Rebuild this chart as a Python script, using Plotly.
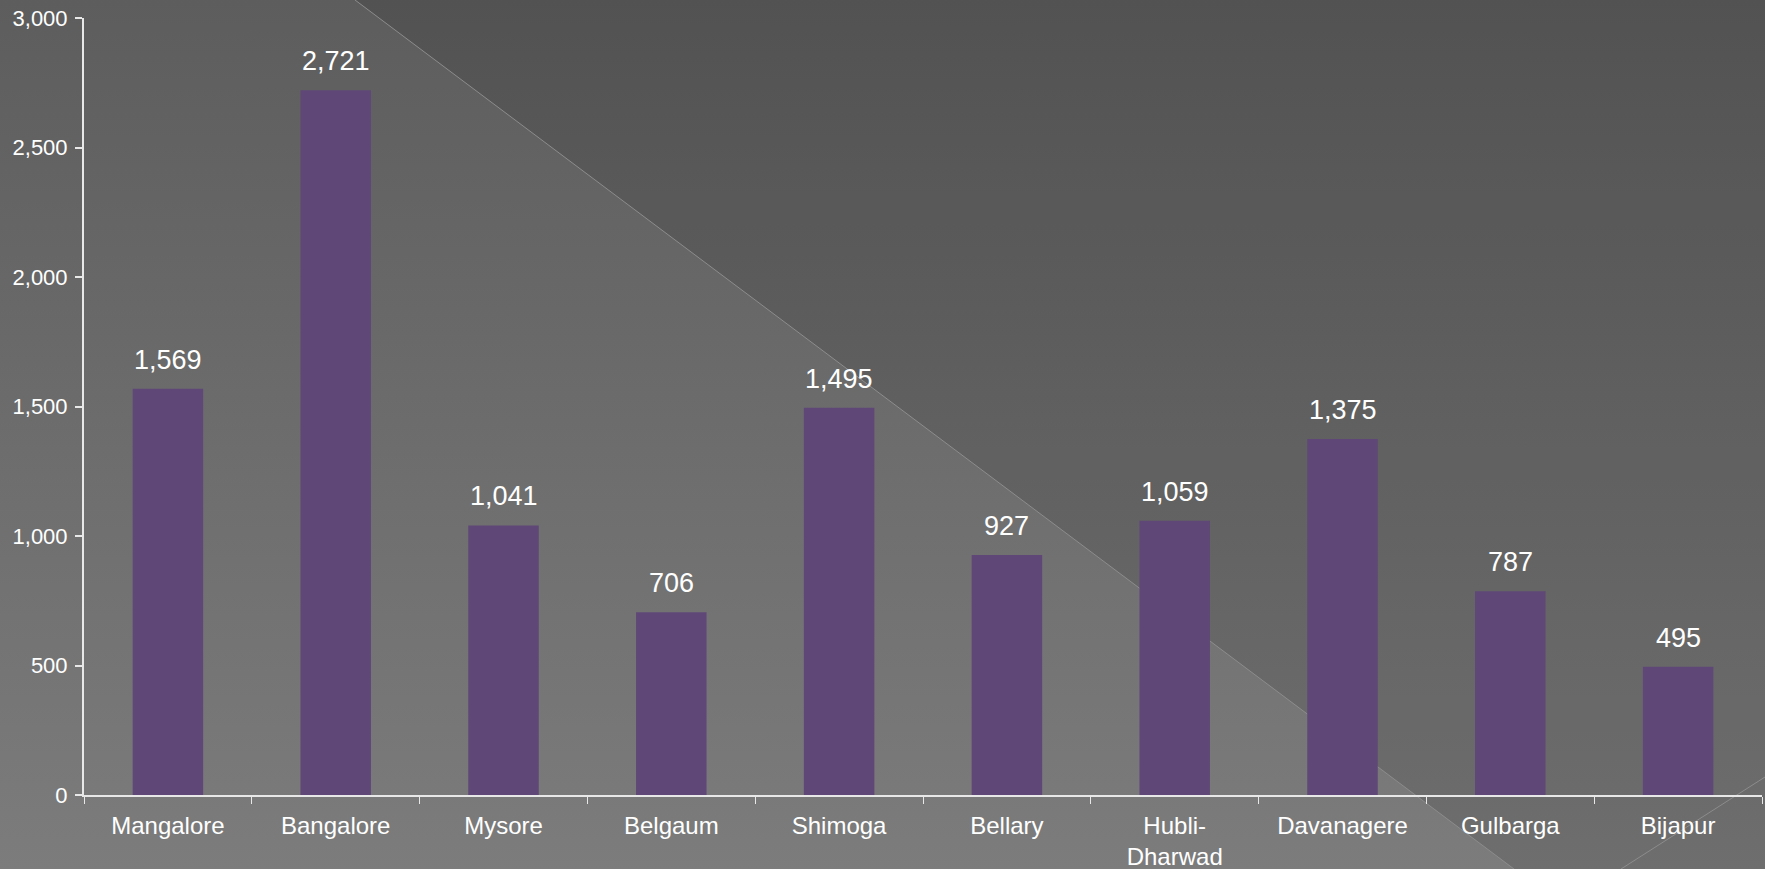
import base64
import plotly.graph_objects as go

cities = ["Mangalore", "Bangalore", "Mysore", "Belgaum", "Shimoga",
          "Bellary", "Hubli-<br>Dharwad", "Davanagere", "Gulbarga", "Bijapur"]
values = [1569, 2721, 1041, 706, 1495, 927, 1059, 1375, 787, 495]
y_ticks = [0, 500, 1000, 1500, 2000, 2500, 3000]

W, H = 1765, 869
BAR = "#5f4778"
AXIS = "#e8e8e8"
FONT = "Liberation Sans, Arial, sans-serif"

# slide-style background: grey gradient, darker triangle top-right, thin diagonals
svg = f"""<svg xmlns='http://www.w3.org/2000/svg' width='{W}' height='{H}' viewBox='0 0 {W} {H}' preserveAspectRatio='none'>
<defs><linearGradient id='g' x1='0' y1='0' x2='0' y2='1'>
<stop offset='0' stop-color='#5d5d5d'/><stop offset='1' stop-color='#7c7c7c'/></linearGradient></defs>
<rect width='{W}' height='{H}' fill='url(#g)'/>
<polygon points='355,0 {W},0 {W},{H} 1514,{H}' fill='#000' fill-opacity='0.11'/>
<line x1='355' y1='0' x2='1514' y2='{H}' stroke='#8c8c8c' stroke-width='1'/>
<line x1='{W}' y1='777' x2='1621' y2='{H}' stroke='#8c8c8c' stroke-width='1'/>
</svg>"""
bg = "data:image/svg+xml;base64," + base64.b64encode(svg.encode()).decode()

fig = go.Figure(go.Bar(x=cities, y=values, marker=dict(color=BAR, line=dict(width=0))))

for c, v in zip(cities, values):
    fig.add_annotation(x=c, y=v, text=f"{v:,}", showarrow=False, yanchor="bottom",
                       yshift=12, font=dict(size=27, color="white", family=FONT))

ml, mr, mt, mb = 84, 3, 18, 74
pw, ph = W - ml - mr, H - mt - mb
fig.add_layout_image(source=bg, xref="paper", yref="paper",
                     x=-ml / pw, y=1 + mt / ph, sizex=W / pw, sizey=H / ph,
                     xanchor="left", yanchor="top", sizing="stretch", layer="below")

fig.update_layout(
    width=W, height=H,
    margin=dict(l=ml, r=mr, t=mt, b=mb),
    paper_bgcolor="#6a6a6a", plot_bgcolor="rgba(0,0,0,0)",
    bargap=0.58, showlegend=False,
    font=dict(family=FONT, color="white"),
)
fig.update_xaxes(showline=True, linecolor=AXIS, linewidth=2, ticks="outside",
                 tickson="boundaries", ticklen=7, tickcolor=AXIS, tickwidth=1,
                 showgrid=False, tickfont=dict(size=24, color="white"),
                 ticklabelstandoff=8, automargin=False)
fig.update_yaxes(range=[0, 3000], tickvals=y_ticks, tickformat=",", showline=True,
                 linecolor=AXIS, linewidth=2, ticks="outside", ticklen=7,
                 tickcolor=AXIS, tickwidth=2, showgrid=False, zeroline=False,
                 tickfont=dict(size=22, color="white"), ticklabelstandoff=3,
                 automargin=False)

# drop the page's default body margin and scrollbars so the chart fills the window
fig.write_html(
    "out.html",
    config={"displayModeBar": False},
    post_script="document.body.style.margin='0';"
                "document.body.style.overflow='hidden';"
                "document.documentElement.style.overflow='hidden';",
)
